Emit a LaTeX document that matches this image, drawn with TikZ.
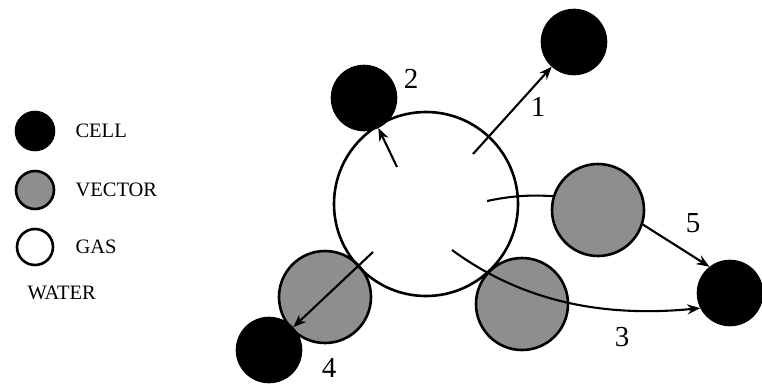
\documentclass[tikz,border=0pt]{standalone}
\usepackage{fontspec}
\setmainfont{Liberation Serif}
\usetikzlibrary{arrows.meta}
\definecolor{vecgray}{HTML}{8E8E8E}
\tikzset{
  cellball/.style={circle, draw, fill=black, line width=2.6pt, minimum size=#1, inner sep=0pt},
  vectorball/.style={circle, draw, fill=vecgray, line width=2.6pt, minimum size=#1, inner sep=0pt},
  gasball/.style={circle, draw, line width=2.6pt, minimum size=#1, inner sep=0pt},
  legtext/.style={anchor=west, font=\fontsize{20.5}{22}\selectfont},
  num/.style={font=\fontsize{29}{31}\selectfont},
  flow/.style={line width=2.1pt, -{Stealth[length=13pt,width=10pt]}}
}
\begin{document}
\begin{tikzpicture}[x=1pt, y=1pt]
  \useasboundingbox[fill=white] (0,0) rectangle (762,-383);

  % legend
  \node[cellball=38pt] (lcell) at (35,-131) {};
  \node[legtext] (tcell) at (72,-131) {CELL};
  \node[vectorball=38pt] (lvec) at (35,-190) {};
  \node[legtext] (tvec) at (72,-190) {VECTOR};
  \node[gasball=36pt] (lgas) at (35,-247) {};
  \node[legtext] (tgas) at (72,-247) {GAS};
  \node[legtext] (twater) at (24,-293) {WATER};

  % vectors
  \node[vectorball=92pt] (v4) at (325,-297) {};
  \node[vectorball=92pt] (v3) at (522,-304) {};
  \node[vectorball=92pt] (v5) at (598,-210) {};

  % gas bubble
  \node[gasball=184pt] (gas) at (426,-204) {};

  % cells
  \node[cellball=64pt] (c1) at (574,-42) {};
  \node[cellball=64pt] (c2) at (364,-98) {};
  \node[cellball=64pt] (c4) at (269,-350) {};
  \node[cellball=64pt] (c5) at (730,-293) {};

  % start points inside the bubble
  \coordinate (s1) at (473,-154);
  \coordinate (s2) at (397,-167);
  \coordinate (s3) at (452,-250);
  \coordinate (s4) at (373,-252);
  \coordinate (s5) at (487,-201);

  % paths
  \draw[flow] (s1) -- (c1);
  \draw[flow] (s2) -- (c2);
  \draw[flow] (s3) .. controls (520,-300) and (600,-318) .. (c5.207);
  \draw[flow] (s4) -- (c4);
  \draw[line width=2.1pt] (s5) .. controls (515,-195) and (535,-195) .. (v5.163);
  \draw[flow] (v5.-18) -- (c5.128);

  % labels
  \node[num] (n1) at (538,-107) {1};
  \node[num] (n2) at (411,-79) {2};
  \node[num] (n3) at (622,-337) {3};
  \node[num] (n4) at (329,-368) {4};
  \node[num] (n5) at (693,-223) {5};
\end{tikzpicture}
\end{document}
